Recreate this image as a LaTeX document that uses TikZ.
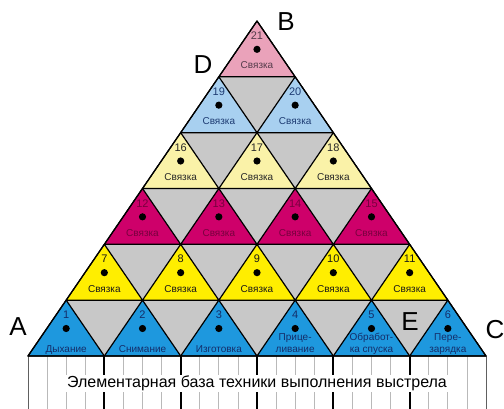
\documentclass[tikz,border=0pt]{standalone}
\usepackage{fontspec}
\setmainfont{Liberation Sans}
\definecolor{rowA}{RGB}{30,152,222}
\definecolor{rowB}{RGB}{255,238,0}
\definecolor{rowC}{RGB}{206,0,106}
\definecolor{rowD}{RGB}{250,242,168}
\definecolor{rowE}{RGB}{168,208,240}
\definecolor{rowF}{RGB}{234,162,186}
\definecolor{downgray}{RGB}{200,200,200}
\definecolor{txtA}{RGB}{20,45,105}
\definecolor{txtB}{RGB}{25,25,25}
\definecolor{txtC}{RGB}{120,0,62}
\definecolor{txtD}{RGB}{40,40,40}
\definecolor{txtE}{RGB}{30,60,115}
\definecolor{txtF}{RGB}{85,60,75}
\newcommand{\uptri}[7]{%
  \pgfmathsetmacro{\yb}{356-(#1-1)*\H}%
  \pgfmathsetmacro{\yt}{\yb-\H}%
  \pgfmathsetmacro{\xl}{28+(#1-1)*\W+#2*2*\W}%
  \pgfmathsetmacro{\xm}{\xl+\W}%
  \pgfmathsetmacro{\xr}{\xl+2*\W}%
  \filldraw[tri,fill=#4] (\xl,\yb) -- (\xm,\yt) -- (\xr,\yb) -- cycle;%
  \node[num,text=#5] (n#3) at (\xm,\yb-41) {#3};%
  \node[dotnode] (d#3) at (\xm,\yb-27.5) {};%
  \ifnum#1=1 \pgfmathsetmacro{\yl}{\yb-3.5}\else\pgfmathsetmacro{\yl}{\yb-8}\fi
  \node[lab,text=#5] (l#3) at (\xm,\yl) {#7};%
  \if\relax\detokenize{#6}\relax\else
    \node[lab,text=#5] (k#3) at (\xm,\yl-12) {#6};%
  \fi
}
\begin{document}
\begin{tikzpicture}[x=1pt,y=-1pt,
  tri/.style={draw=black,line width=1.2pt,line join=round},
  num/.style={font=\fontsize{11}{11}\selectfont,inner sep=0pt},
  lab/.style={font=\fontsize{10}{10}\selectfont,inner sep=0pt,anchor=base},
  dotnode/.style={circle,fill=black,inner sep=0pt,minimum size=7.2pt},
  big/.style={font=\fontsize{26}{26}\selectfont,inner sep=0pt},
  thickline/.style={draw=black,line width=1.8pt},
  thinline/.style={draw=gray!55,line width=0.8pt},
  edgeline/.style={draw=gray!75!black,line width=1pt},
]
\useasboundingbox (0,0) rectangle (504,409);
\pgfmathsetmacro{\W}{229/6}
\pgfmathsetmacro{\H}{335/6}
% vertical lines below the base
\foreach \i in {0,...,24}{
  \pgfmathsetmacro{\xx}{28+\i*\W/2}
  \pgfmathtruncatemacro{\m}{mod(\i,4)}
  \ifnum\i=0 \draw[edgeline] (\xx,356) -- (\xx,409);
  \else\ifnum\i=24 \draw[edgeline] (\xx,356) -- (\xx,409);
  \else\ifnum\m=0 \draw[thickline] (\xx,356) -- (\xx,409);
  \else \draw[thinline] (\xx,356) -- (\xx,409);
  \fi\fi\fi
}
\node[fill=white,inner sep=0pt,minimum width=414pt,minimum height=17pt,
  font=\fontsize{16}{16}\selectfont] (basis) at (257,383.5)
  {Элементарная база техники выполнения выстрела};
% gray background of the pyramid
\coordinate (A0) at (28,356);
\coordinate (B0) at (257,21);
\coordinate (C0) at (486,356);
\fill[downgray] (A0) -- (B0) -- (C0) -- cycle;
% row 1
\uptri{1}{0}{1}{rowA}{txtA}{}{Дыхание}
\uptri{1}{1}{2}{rowA}{txtA}{}{Снимание}
\uptri{1}{2}{3}{rowA}{txtA}{}{Изготовка}
\uptri{1}{3}{4}{rowA}{txtA}{Прице-}{ливание}
\uptri{1}{4}{5}{rowA}{txtA}{Обработ-}{ка спуска}
\uptri{1}{5}{6}{rowA}{txtA}{Пере-}{зарядка}
% row 2
\uptri{2}{0}{7}{rowB}{txtB}{}{Связка}
\uptri{2}{1}{8}{rowB}{txtB}{}{Связка}
\uptri{2}{2}{9}{rowB}{txtB}{}{Связка}
\uptri{2}{3}{10}{rowB}{txtB}{}{Связка}
\uptri{2}{4}{11}{rowB}{txtB}{}{Связка}
% row 3
\uptri{3}{0}{12}{rowC}{txtC}{}{Связка}
\uptri{3}{1}{13}{rowC}{txtC}{}{Связка}
\uptri{3}{2}{14}{rowC}{txtC}{}{Связка}
\uptri{3}{3}{15}{rowC}{txtC}{}{Связка}
% row 4
\uptri{4}{0}{16}{rowD}{txtD}{}{Связка}
\uptri{4}{1}{17}{rowD}{txtD}{}{Связка}
\uptri{4}{2}{18}{rowD}{txtD}{}{Связка}
% row 5
\uptri{5}{0}{19}{rowE}{txtE}{}{Связка}
\uptri{5}{1}{20}{rowE}{txtE}{}{Связка}
% row 6
\uptri{6}{0}{21}{rowF}{txtF}{}{Связка}
% outline
\draw[tri] (A0) -- (B0) -- (C0) -- cycle;
% letters
\node[big] (LA) at (18,327) {A};
\node[big] (LB) at (286,22) {B};
\node[big] (LC) at (495,330) {C};
\node[big] (LD) at (203,65) {D};
\node[big] (LE) at (410,322) {E};
\end{tikzpicture}
\end{document}
